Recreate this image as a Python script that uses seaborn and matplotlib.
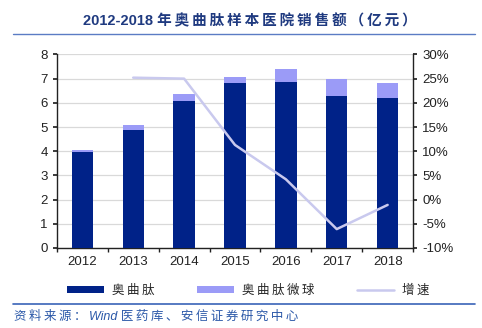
import matplotlib
matplotlib.use("Agg")
import matplotlib.pyplot as plt
import seaborn as sns
import numpy as np
import pandas as pd
from matplotlib.patches import Patch
from matplotlib.lines import Line2D
from matplotlib.ticker import FuncFormatter, MultipleLocator

years = ["2012", "2013", "2014", "2015", "2016", "2017", "2018"]
octreotide = [3.95, 4.86, 6.07, 6.80, 6.87, 6.29, 6.18]
microspheres = [0.12, 0.23, 0.28, 0.27, 0.52, 0.68, 0.66]
growth = [np.nan, 25.2, 25.0, 11.3, 4.2, -6.1, -1.1]

series_names = ["奥曲肽", "奥曲肽微球", "增速"]
title = "2012-2018 年奥曲肽样本医院销售额（亿元）"
source = "资料来源：Wind 医药库、安信证券研究中心"

dark = "#002288"
light = "#9b9bf7"
line_c = "#c9c9ee"
navy = "#1f3a80"


def spaced(s):
    out = ""
    for i, ch in enumerate(s):
        out += ch
        if ord(ch) > 0x2E80 and i < len(s) - 1:
            out += "\u2009"
    return out


sns.set_theme(style="white")
plt.rcParams["font.family"] = ["Liberation Sans", "Noto Sans CJK SC", "DejaVu Sans"]

df = pd.DataFrame({"year": years, "main": octreotide,
                   "total": np.array(octreotide) + np.array(microspheres)})

fig = plt.figure(figsize=(4.82, 3.28), dpi=100)
ax = fig.add_axes([0.118, 0.244, 0.739, 0.590])

sns.barplot(data=df, x="year", y="total", color=light, width=0.42,
            saturation=1, linewidth=0, ax=ax, zorder=3)
sns.barplot(data=df, x="year", y="main", color=dark, width=0.42,
            saturation=1, linewidth=0, ax=ax, zorder=4)

ax.set_xlim(-0.5, len(years) - 0.5)
ax.set_ylim(0, 8)
ax.yaxis.set_major_locator(MultipleLocator(1))
ax.set_xlabel("")
ax.set_ylabel("")
ax.grid(axis="y", color="#d9d9d9", linewidth=0.9, zorder=0)
ax.set_axisbelow(True)
for s in ["top", "right"]:
    ax.spines[s].set_visible(False)
for s in ["left", "bottom"]:
    ax.spines[s].set_color("#222222")
    ax.spines[s].set_linewidth(1.0)
ax.set_xticks(np.arange(len(years)))
ax.set_xticklabels(years)
ax.set_xticks(np.arange(len(years) + 1) - 0.5, minor=True)
ax.tick_params(axis="x", which="major", length=0, labelsize=9.5, pad=6, colors="#222222")
ax.tick_params(axis="x", which="minor", length=3, color="#222222", direction="out", bottom=True)
ax.tick_params(axis="y", length=3, color="#222222", labelsize=9.5, left=True, colors="#222222")

ax2 = ax.twinx()
sns.lineplot(x=np.arange(len(years)), y=growth, color=line_c, linewidth=1.8, ax=ax2, zorder=5)
ax2.set_ylim(-10, 30)
ax2.yaxis.set_major_locator(MultipleLocator(5))
ax2.yaxis.set_major_formatter(FuncFormatter(lambda v, p: f"{v:.0f}%"))
for s in ["top", "left", "bottom"]:
    ax2.spines[s].set_visible(False)
ax2.spines["right"].set_color("#222222")
ax2.spines["right"].set_linewidth(1.0)
ax2.tick_params(axis="y", length=3, color="#222222", labelsize=9.5, right=True, colors="#222222")
ax2.set_xlim(-0.5, len(years) - 0.5)

fig.text(0.518, 0.935, spaced(title), ha="center", va="center", fontsize=10.5,
         fontweight="bold", color=navy)
fig.add_artist(Line2D([0.027, 0.985], [0.896, 0.896], color="#5b7cc4", linewidth=1.0))
fig.add_artist(Line2D([0.027, 0.985], [0.073, 0.073], color="#3a63b8", linewidth=1.2))
fig.text(0.030, 0.035, spaced(source), ha="left", va="center", fontsize=9,
         style="italic", color="#2b58a8")

handles = [Patch(facecolor=dark, edgecolor="none"),
           Patch(facecolor=light, edgecolor="none"),
           Line2D([0], [0], color=line_c, linewidth=1.8)]
fig.legend(handles, [spaced(n) for n in series_names], loc="center",
           bbox_to_anchor=(0.515, 0.113),
           ncol=3, frameon=False, fontsize=9, handlelength=3.0, handleheight=0.5,
           columnspacing=3.4, handletextpad=0.6)

fig.savefig("out.png", dpi=100)
